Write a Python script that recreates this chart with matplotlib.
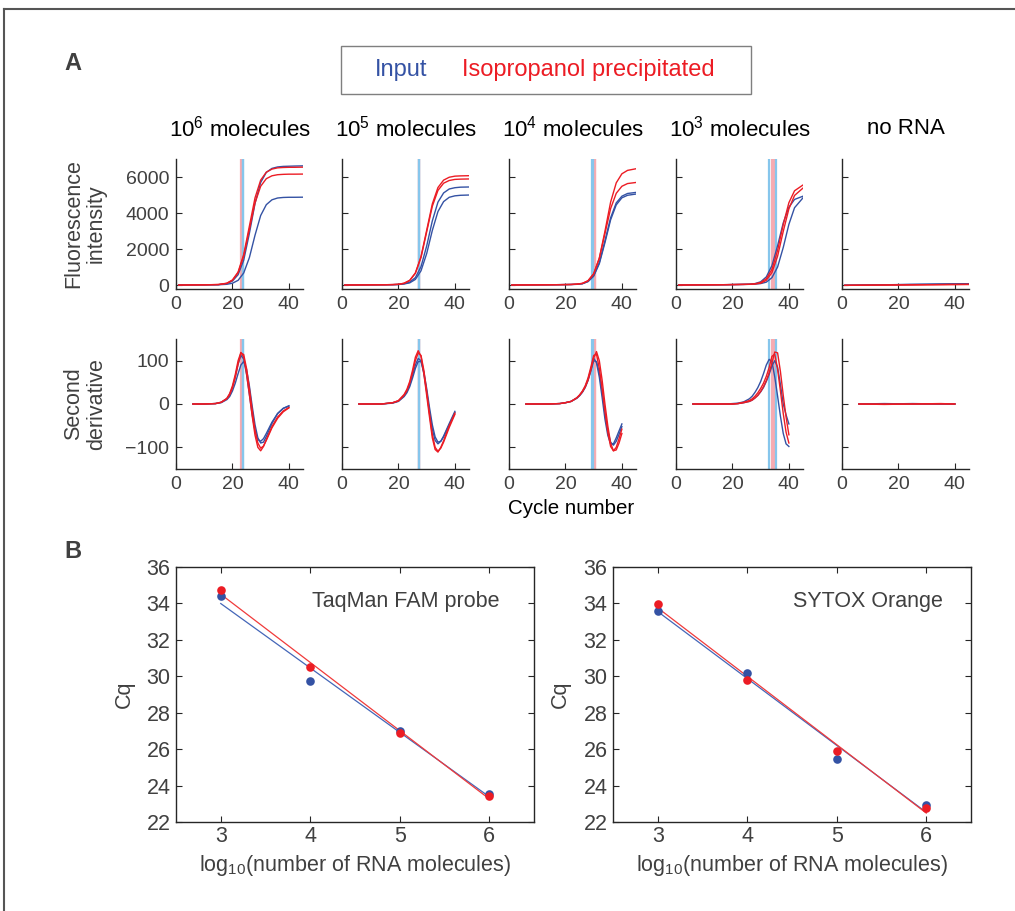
import numpy as np
import matplotlib
matplotlib.use("Agg")
import matplotlib.pyplot as plt
from matplotlib.lines import Line2D
from matplotlib.patches import Rectangle

plt.rcParams['font.family'] = ['Liberation Sans', 'DejaVu Sans']
plt.rcParams['mathtext.fontset'] = 'custom'
plt.rcParams['mathtext.rm'] = 'Liberation Sans'
plt.rcParams['mathtext.it'] = 'Liberation Sans:italic'
plt.rcParams['mathtext.default'] = 'regular'

# ---------------- data ----------------
titles = [r'10$^6$ molecules', r'10$^5$ molecules', r'10$^4$ molecules',
          r'10$^3$ molecules', 'no RNA']

# amplification curves (fluorescence), common cycle grid
fl_cycles = [1, 5, 10, 15, 18, 20, 22, 24, 26, 28, 30, 32, 34, 36, 38, 40, 42, 45]

fl_input_1e6 = [[20, 25, 30, 40, 100, 240, 590, 1400, 2880, 4540, 5700, 6260, 6480, 6560, 6590, 6600, 6610, 6620],
                [20, 25, 30, 35, 60, 120, 280, 690, 1540, 2780, 3870, 4470, 4740, 4840, 4870, 4880, 4880, 4885]]
fl_iso_1e6 = [[20, 25, 30, 50, 120, 300, 740, 1720, 3280, 4850, 5830, 6270, 6440, 6510, 6530, 6540, 6540, 6550],
              [20, 25, 30, 45, 110, 280, 700, 1620, 3090, 4570, 5490, 5910, 6070, 6130, 6150, 6160, 6160, 6165]]

fl_input_1e5 = [[20, 25, 30, 35, 40, 50, 90, 180, 430, 1040, 2180, 3570, 4610, 5120, 5340, 5410, 5440, 5450],
                [20, 25, 30, 35, 40, 50, 80, 140, 330, 810, 1760, 3040, 4090, 4640, 4880, 4960, 4990, 5005]]
fl_iso_1e5 = [[20, 25, 30, 35, 45, 60, 120, 280, 690, 1600, 3050, 4510, 5420, 5830, 5990, 6050, 6065, 6075],
              [20, 25, 30, 35, 45, 60, 115, 270, 670, 1550, 2960, 4380, 5260, 5660, 5810, 5870, 5885, 5895]]

fl_input_1e4 = [[20, 25, 30, 35, 40, 45, 50, 60, 95, 220, 540, 1260, 2470, 3740, 4570, 4940, 5090, 5150],
                [20, 25, 30, 35, 40, 45, 50, 60, 90, 210, 510, 1200, 2370, 3630, 4460, 4850, 4990, 5060]]
fl_iso_1e4 = [[20, 25, 30, 35, 40, 45, 50, 70, 110, 250, 630, 1510, 3000, 4610, 5680, 6180, 6370, 6460],
              [20, 25, 30, 35, 40, 45, 50, 70, 110, 260, 650, 1500, 2870, 4250, 5100, 5490, 5640, 5700]]

fl_input_1e3 = [[20, 25, 30, 35, 40, 45, 50, 55, 65, 100, 200, 470, 1100, 2200, 3460, 4330, 4760, 4940],
                [20, 25, 30, 35, 40, 45, 50, 55, 60, 70, 100, 180, 430, 1020, 2100, 3380, 4300, 4850]]
fl_iso_1e3 = [[20, 25, 30, 35, 40, 45, 50, 55, 60, 90, 160, 370, 890, 1940, 3370, 4580, 5240, 5560],
              [20, 25, 30, 35, 40, 45, 50, 55, 60, 80, 120, 280, 710, 1620, 2990, 4240, 4980, 5390]]

fl_input_none = [[10, 15, 25, 35, 40, 45, 50, 55, 58, 62, 65, 70, 74, 78, 82, 86, 90, 95],
                 [5, 12, 20, 30, 35, 40, 44, 48, 52, 56, 60, 64, 68, 72, 76, 80, 84, 90]]
fl_iso_none = [[5, 10, 15, 22, 25, 27, 29, 31, 33, 35, 38, 40, 43, 46, 49, 51, 53, 56],
               [0, 8, 12, 18, 21, 23, 25, 27, 29, 31, 34, 36, 39, 42, 45, 47, 49, 52]]

# second derivative curves
d2_cycles_1e6 = [6, 10, 14, 16, 18, 19, 20, 21, 22, 23, 24, 25, 26, 27, 28, 29, 30, 31, 32, 34, 36, 38, 40]
d2_input_1e6 = [[0, 0, 1, 3, 10, 17, 30, 48, 70, 90, 98, 80, 42, -5, -48, -78, -90, -88, -75, -45, -22, -10, -4],
                [0, 0, 1, 4, 12, 22, 38, 63, 92, 112, 104, 68, 22, -25, -62, -82, -86, -80, -68, -42, -22, -10, -5]]
d2_iso_1e6 = [[0, 0, 1, 4, 13, 24, 42, 68, 100, 119, 108, 70, 22, -28, -72, -100, -108, -98, -82, -52, -30, -16, -8],
              [0, 0, 1, 4, 12, 21, 37, 61, 92, 118, 114, 82, 36, -14, -60, -90, -102, -97, -84, -55, -33, -18, -9]]

d2_cycles_1e5 = [6, 10, 14, 18, 20, 22, 23, 24, 25, 26, 27, 28, 29, 30, 31, 32, 33, 34, 35, 36, 38, 40]
d2_input_1e5 = [[0, 0, 0, 3, 7, 19, 29, 45, 66, 90, 105, 100, 70, 28, -18, -58, -84, -92, -86, -74, -45, -17],
                [0, 0, 0, 2, 6, 17, 26, 40, 60, 82, 98, 98, 74, 36, -8, -48, -76, -88, -86, -76, -48, -20]]
d2_iso_1e5 = [[0, 0, 0, 3, 8, 22, 34, 52, 78, 108, 123, 110, 70, 20, -30, -78, -105, -111, -100, -85, -50, -21],
              [0, 0, 0, 3, 7, 20, 31, 48, 72, 100, 118, 112, 78, 30, -22, -70, -100, -109, -102, -88, -54, -24]]

d2_cycles_1e4 = [6, 10, 14, 18, 20, 22, 24, 25, 26, 27, 28, 29, 30, 31, 32, 33, 34, 35, 36, 37, 38, 39, 40]
d2_input_1e4 = [[0, 0, 0, 1, 3, 6, 14, 20, 28, 40, 57, 80, 106, 95, 62, 15, -35, -72, -92, -92, -78, -62, -46],
                [0, 0, 0, 1, 3, 6, 13, 19, 27, 38, 54, 76, 100, 98, 72, 28, -22, -62, -88, -95, -86, -70, -52]]
d2_iso_1e4 = [[0, 0, 0, 1, 3, 6, 14, 20, 28, 39, 55, 78, 106, 121, 100, 55, 0, -50, -90, -108, -106, -90, -68],
              [0, 0, 0, 1, 3, 6, 14, 21, 30, 42, 60, 85, 112, 115, 82, 35, -18, -65, -98, -108, -100, -80, -58]]

d2_cycles_1e3 = [6, 10, 14, 18, 20, 22, 24, 26, 27, 28, 29, 30, 31, 32, 33, 34, 35, 36, 37, 38, 39, 40]
d2_input_1e3 = [[0, 0, 0, 0, 1, 2, 5, 12, 18, 27, 38, 52, 70, 90, 103, 98, 62, 18, -28, -68, -92, -98],
                [0, 0, 0, 0, 0, 1, 3, 6, 9, 14, 20, 28, 38, 52, 68, 88, 100, 85, 45, 0, -25, -46]]
d2_iso_1e3 = [[0, 0, 0, 0, 0, 1, 4, 8, 12, 18, 26, 36, 48, 64, 84, 110, 115, 80, 30, -22, -65, -90],
              [0, 0, 0, 0, 0, 1, 3, 6, 9, 14, 20, 29, 40, 54, 72, 95, 120, 118, 75, 20, -30, -71]]

d2_cycles_none = [6, 15, 25, 35, 40]
d2_input_none = [[0, 0, 1, 0, 0], [0, 1, 0, 0, 0]]
d2_iso_none = [[0, 0, 0, 1, 0], [0, -1, 0, 0, 0]]

# Cq values of the individual replicates (vertical lines)
cq_input_reps = [[23.6, 23.65], [27.25, 27.3], [29.55, 29.85], [33.1, 35.5], []]
cq_iso_reps = [[23.2, 23.3], [27.2, 27.25], [30.4, 30.45], [34.1, 34.7], []]

# standard curves (panel B)
log_molecules = [3, 4, 5, 6]
taqman_input = [34.43, 29.76, 27.01, 23.56]
taqman_iso = [34.72, 30.51, 26.87, 23.45]
sytox_input = [33.60, 30.18, 25.46, 22.93]
sytox_iso = [33.99, 29.81, 25.92, 22.77]

fl_sets = [(fl_input_1e6, fl_iso_1e6), (fl_input_1e5, fl_iso_1e5), (fl_input_1e4, fl_iso_1e4),
           (fl_input_1e3, fl_iso_1e3), (fl_input_none, fl_iso_none)]
d2_sets = [(d2_cycles_1e6, d2_input_1e6, d2_iso_1e6), (d2_cycles_1e5, d2_input_1e5, d2_iso_1e5),
           (d2_cycles_1e4, d2_input_1e4, d2_iso_1e4), (d2_cycles_1e3, d2_input_1e3, d2_iso_1e3),
           (d2_cycles_none, d2_input_none, d2_iso_none)]

# ---------------- styling ----------------
W, H = 1015, 911
BLUE = '#3452a4'
RED = '#ec1c24'
LBLUE = '#86c6ec'
PINK = '#f6abb1'
TXT = '#404040'
AX = '#262626'

fig = plt.figure(figsize=(W / 100, H / 100), dpi=100)


def px_axes(x0, y0, x1, y1):
    return fig.add_axes([x0 / W, 1 - y1 / H, (x1 - x0) / W, (y1 - y0) / H])


def ftext(x, y, s, **kw):
    return fig.text(x / W, 1 - y / H, s, **kw)


# frame lines of the figure page
fig.add_artist(Line2D([4 / W, 1], [1 - 9 / H, 1 - 9 / H], transform=fig.transFigure, color='#555555', lw=1.5))
fig.add_artist(Line2D([4 / W, 4 / W], [0, 1 - 9 / H], transform=fig.transFigure, color='#555555', lw=1.5))

ftext(73, 63, 'A', fontsize=17, fontweight='bold', color=TXT, ha='center', va='center')
ftext(73, 551, 'B', fontsize=17, fontweight='bold', color=TXT, ha='center', va='center')

# legend box
fig.add_artist(Rectangle((341 / W, 1 - 94 / H), 410 / W, 48 / H, transform=fig.transFigure,
                         facecolor='white', edgecolor='#7f7f7f', lw=1))
ftext(401, 70, 'Input', fontsize=17, color=BLUE, ha='center', va='center')
ftext(462, 70, 'Isopropanol precipitated', fontsize=17, color=RED, ha='left', va='center')

col_x = [176, 342, 509, 676, 842]
pw = 127


def style_row_axes(ax, first):
    for s in ['top', 'right']:
        ax.spines[s].set_visible(False)
    for s in ['left', 'bottom']:
        ax.spines[s].set_color(AX)
        ax.spines[s].set_linewidth(1.0)
    ax.set_xlim(0, 45)
    ax.set_xticks([0, 20, 40])
    ax.tick_params(direction='in', length=4, width=0.8, color=AX, labelsize=14,
                   labelcolor=TXT, pad=5, labelleft=first)


for i in range(5):
    x0 = col_x[i]
    fl_in, fl_iso = fl_sets[i]
    d2c, d2_in, d2_iso = d2_sets[i]

    ax1 = px_axes(x0, 159, x0 + pw, 289)
    ax2 = px_axes(x0, 339, x0 + pw, 469)
    for ax in (ax1, ax2):
        for c in cq_iso_reps[i]:
            ax.axvline(c, color=PINK, lw=1.6, zorder=1)
        for c in cq_input_reps[i]:
            ax.axvline(c, color=LBLUE, lw=1.6, zorder=1)

    for y in fl_in:
        ax1.plot(fl_cycles, y, color=BLUE, lw=1.0, zorder=2)
    for y in fl_iso:
        ax1.plot(fl_cycles, y, color=RED, lw=1.0, zorder=3)
    for y in d2_in:
        ax2.plot(d2c, y, color=BLUE, lw=1.0, zorder=2)
    for y in d2_iso:
        ax2.plot(d2c, y, color=RED, lw=1.0, zorder=3)

    style_row_axes(ax1, i == 0)
    style_row_axes(ax2, i == 0)
    ax1.set_ylim(-200, 7000)
    ax1.set_yticks([0, 2000, 4000, 6000])
    ax2.set_ylim(-150, 150)
    ax2.set_yticks([-100, 0, 100])

    ftext(x0 + pw / 2, 129, titles[i], fontsize=16, color='black', ha='center', va='center')

ftext(85, 224, 'Fluorescence\nintensity', fontsize=15.5, color=TXT, rotation=90,
      ha='center', va='center', multialignment='center', linespacing=1.1)
ftext(85, 404, 'Second\nderivative', fontsize=15.5, color=TXT, rotation=90,
      ha='center', va='center', multialignment='center', linespacing=1.1)
ftext(571, 508, 'Cycle number', fontsize=14.8, color='black', ha='center', va='center')

# ---------------- panel B ----------------
b_panels = [((176, 567, 534, 822), taqman_input, taqman_iso, 'TaqMan FAM probe', 406, 124),
            ((613, 567, 971, 822), sytox_input, sytox_iso, 'SYTOX Orange', 868, 560)]

for (x0, y0, x1, y1), cq_in, cq_iso, label, lab_x, cq_x in b_panels:
    ax = px_axes(x0, y0, x1, y1)
    xs = np.array(log_molecules, dtype=float)
    for vals, col in ((cq_in, '#4466b8'), (cq_iso, '#f03a3a')):
        k, b = np.polyfit(xs, vals, 1)
        ax.plot([xs[0], xs[-1]], [k * xs[0] + b, k * xs[-1] + b], color=col, lw=0.9, zorder=2)
    ax.plot(xs, cq_in, 'o', color=BLUE, ms=6.2, mec='none', zorder=3)
    ax.plot(xs, cq_iso, 'o', color=RED, ms=6.2, mec='none', zorder=4)
    ax.set_xlim(2.5, 6.5)
    ax.set_ylim(22, 36)
    ax.set_xticks([3, 4, 5, 6])
    ax.set_yticks(range(22, 37, 2))
    for s in ax.spines.values():
        s.set_color(AX)
        s.set_linewidth(1.0)
    ax.tick_params(direction='in', length=4, width=0.8, color=AX, labelsize=15.5,
                   labelcolor=TXT, pad=4, top=True, right=True)
    ax.tick_params(axis='x', pad=3)
    ftext(lab_x, 602, label, fontsize=15.5, color=TXT, ha='center', va='center')
    ftext((x0 + x1) / 2, 866, r'log$_{10}$(number of RNA molecules)', fontsize=15.5,
          color=TXT, ha='center', va='center')
    ftext(cq_x, 694, 'Cq', fontsize=15.5, color=TXT, rotation=90, ha='center', va='center')

fig.savefig('out.png', dpi=100)
